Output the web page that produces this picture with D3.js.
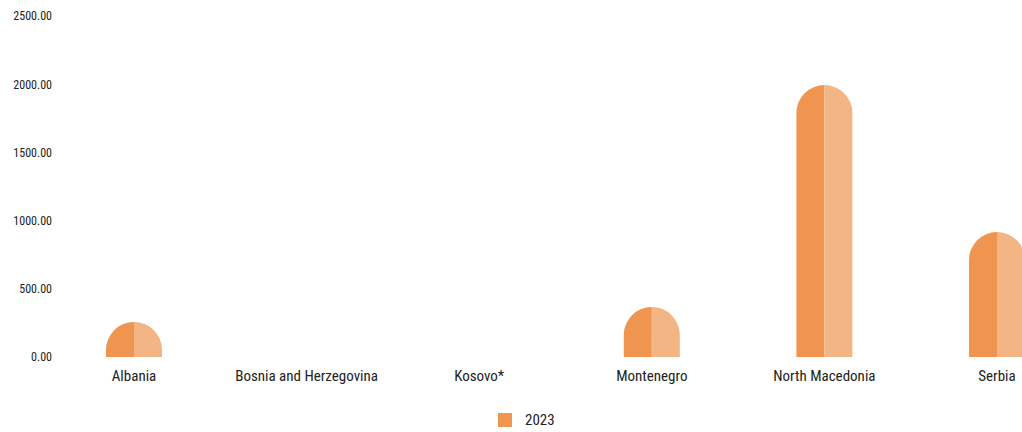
<!DOCTYPE html>
<html><head><meta charset="utf-8">
<script src="https://cdn.jsdelivr.net/npm/d3@7"></script>
<style>
html,body{margin:0;padding:0;background:#fff;}
svg text{font-family:"Roboto Condensed","Liberation Sans Narrow","Roboto",sans-serif;fill:#222;}
</style></head>
<body><svg id="c" width="1022" height="432"></svg>
<script>
const categories = ["Albania","Bosnia and Herzegovina","Kosovo*","Montenegro","North Macedonia","Serbia"];
const values2023 = [257, null, null, 367, 1994, 916];
const yTicks = [0, 500, 1000, 1500, 2000, 2500];
const seriesName = "2023";
const colorDark = "#f0954f", colorLight = "#f4b585";

const svg = d3.select("#c");
const y = d3.scaleLinear().domain([0, 2500]).range([357, 16]);
const x = d3.scaleBand().domain(categories).range([47.7, 1083.3]).padding(0);
const barW = 56;

// y axis labels
const yAxis = d3.axisLeft(y).tickValues(yTicks).tickFormat(d3.format(".2f")).tickSize(0).tickPadding(0);
const gy = svg.append("g").attr("transform","translate(52,0)").call(yAxis);
gy.select(".domain").remove();
gy.selectAll("text").style("font-size","12px").attr("fill","#222").attr("dy","0.32em");

// x axis labels
const xAxis = d3.axisBottom(x).tickSize(0).tickPadding(0);
const gx = svg.append("g").attr("transform","translate(0,370)").call(xAxis);
gx.select(".domain").remove();
gx.selectAll("text").style("font-size","15px").attr("fill","#222").attr("dy","0.71em");

function barPath(cx, v, side){
  const top = y(v), base = y(0), r = barW/2;
  const h = base - top;
  const rr = Math.min(r, h);
  const cy = top + rr;
  if (side === "L") {
    return `M${cx},${base} L${cx-r},${base} L${cx-r},${cy} A${r},${rr} 0 0 1 ${cx},${top} Z`;
  } else {
    return `M${cx},${base} L${cx},${top} A${r},${rr} 0 0 1 ${cx+r},${cy} L${cx+r},${base} Z`;
  }
}

const data = categories.map((c,i)=>({c, v: values2023[i]})).filter(d=>d.v!=null && d.v>0);
const g = svg.append("g");
g.selectAll("path.l").data(data).join("path").attr("class","l")
  .attr("d", d => barPath(x(d.c)+x.bandwidth()/2, d.v, "L")).attr("fill", colorDark);
g.selectAll("path.r").data(data).join("path").attr("class","r")
  .attr("d", d => barPath(x(d.c)+x.bandwidth()/2, d.v, "R")).attr("fill", colorLight);

// legend
const lg = svg.append("g").attr("transform","translate(498,413)");
lg.append("rect").attr("width",14).attr("height",14).attr("fill",colorDark);
lg.append("text").attr("x",27).attr("y",7).attr("dy","0.35em").style("font-size","15px").text(seriesName);
</script></body></html>
